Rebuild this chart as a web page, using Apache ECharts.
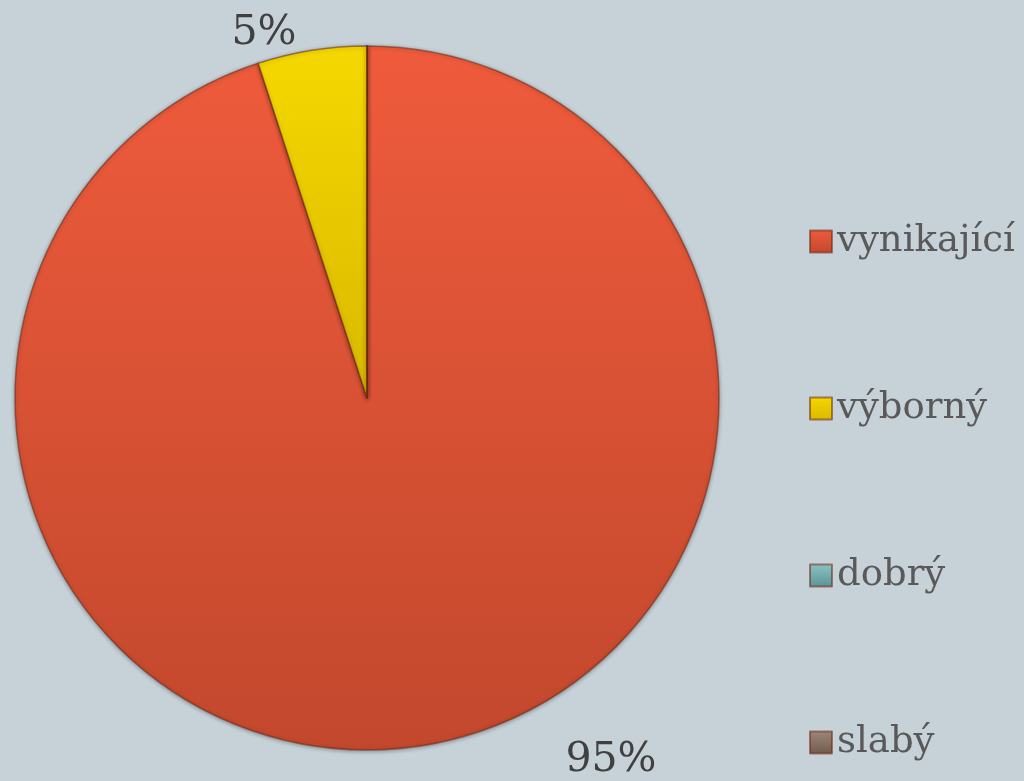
<!DOCTYPE html>
<html>
<head>
<meta charset="utf-8">
<script src="https://cdn.jsdelivr.net/npm/echarts@6/dist/echarts.min.js"></script>
<style>
  html, body { margin: 0; padding: 0; background: #c6d1d8; }
  #chart-container { width: 1024px; height: 781px; }
</style>
</head>
<body>
<div id="chart-container"></div>
<script>
    // categories and values (percent)
    var hodnoceni = ['vynikající', 'výborný', 'dobrý', 'slabý'];
    var podil = [95, 5, 0, 0];

    // colours: top and bottom of each slice gradient
    var barvyHore = ['#ef5b3c', '#f5d800', '#8cc4c6', '#a08878'];
    var barvyDole = ['#c2482d', '#d9b800', '#5a9295', '#6e5a4e'];

    function gradient(i) {
        return new echarts.graphic.LinearGradient(0, 0, 0, 1, [
            { offset: 0, color: barvyHore[i] },
            { offset: 1, color: barvyDole[i] }
        ]);
    }

    var data = hodnoceni.map(function (name, i) {
        return {
            name: name,
            value: podil[i],
            itemStyle: { color: gradient(i) },
            label: { show: podil[i] > 0 }
        };
    });

    var chart = echarts.init(document.getElementById('chart-container'));

    var options = {
        backgroundColor: '#c6d1d8',
        animation: false,
        legend: {
            orient: 'vertical',
            left: 804,
            top: 218,
            itemWidth: 22,
            itemHeight: 22,
            itemGap: 130,
            icon: 'rect',
            data: hodnoceni,
            textStyle: {
                fontFamily: '"DejaVu Serif", "Liberation Serif", serif',
                fontSize: 37,
                color: '#595959'
            }
        },
        series: [{
            type: 'pie',
            center: [367, 398],
            radius: 352,
            startAngle: 90,
            clockwise: true,
            stillShowZeroSum: false,
            itemStyle: {
                borderColor: 'rgba(110,40,20,0.55)',
                borderWidth: 1.5,
                shadowBlur: 4,
                shadowColor: 'rgba(0,0,0,0.35)',
                shadowOffsetY: 1
            },
            label: {
                show: true,
                position: 'outside',
                formatter: function (p) { return Math.round(p.percent) + '%'; },
                fontFamily: '"DejaVu Serif", "Liberation Serif", serif',
                fontSize: 41,
                color: '#404040'
            },
            labelLine: { show: false },
            labelLayout: function (p) {
                if (p.dataIndex === 0) {
                    return { x: 611, y: 760, align: 'center', verticalAlign: 'middle' };
                }
                return { x: 264, y: 33, align: 'center', verticalAlign: 'middle' };
            },
            data: data
        }]
    };

    chart.setOption(options);
</script>
</body>
</html>
